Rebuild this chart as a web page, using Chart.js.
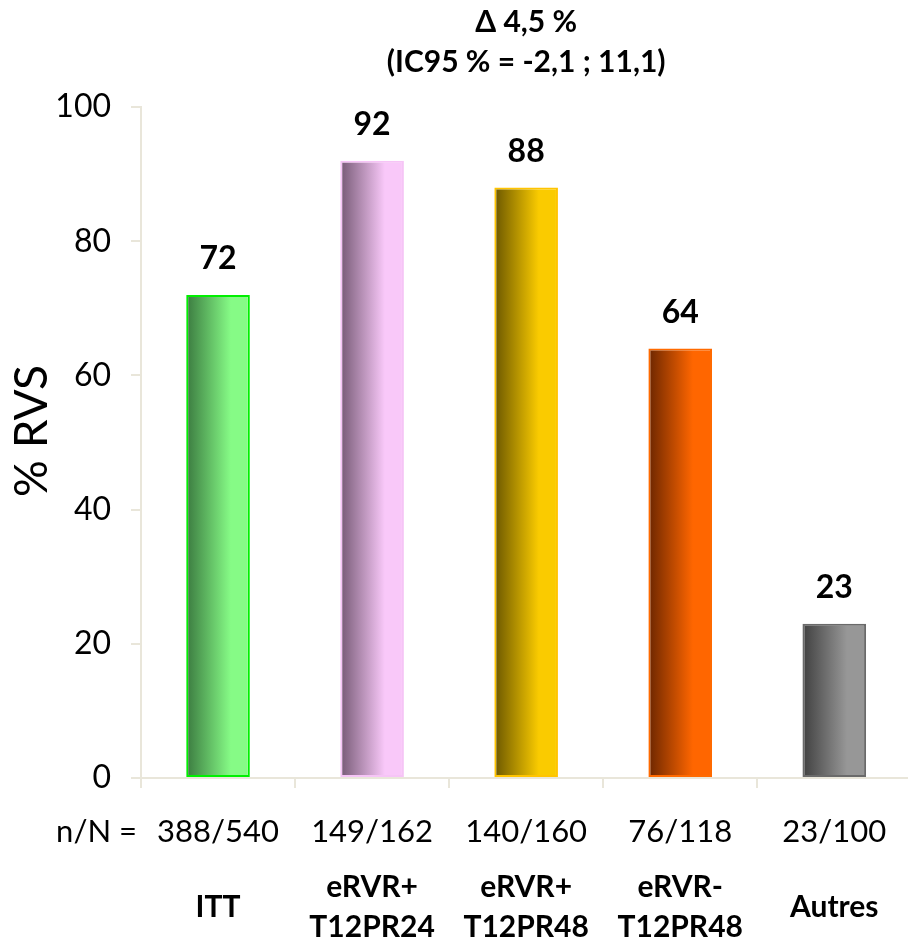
<!DOCTYPE html>
<html>
<head>
<meta charset="utf-8">
<script src="https://cdn.jsdelivr.net/npm/chart.js@4/dist/chart.umd.min.js"></script>
<style>
  html, body { margin: 0; padding: 0; background: #ffffff; overflow: hidden; }
  #wrap { width: 908px; height: 941px; overflow: hidden; position: relative; }
  canvas { display: block; }
</style>
</head>
<body>
<div id="wrap"><canvas id="chart" width="916" height="941"></canvas></div>
<script>
// Sustained virological response (% RVS) by group
const groupLabels = ['ITT', ['eRVR+', 'T12PR24'], ['eRVR+', 'T12PR48'], ['eRVR-', 'T12PR48'], 'Autres'];
const countLabels = ['388/540', '149/162', '140/160', '76/118', '23/100'];
const rvsValues = [72, 92, 88, 64, 23];
const countPrefix = 'n/N =';
const titleLines = ['\u0394 4,5 %', '(IC95 % = -2,1 ; 11,1)'];
const yTitle = '% RVS';

// Bar fills: dark on the left, light on the right
const darkShades = ['#3b7a40', '#765a75', '#6b5700', '#6b2600', '#404040'];
const lightShades = ['#86fb86', '#f9c8f9', '#facb00', '#ff6600', '#979797'];
const edgeColors = ['#00f000', '#f6c4f6', '#ffc400', '#ff6a00', '#6a6a6a'];

const axisColor = '#e9e6da';
const FONT = 'Lato, "Open Sans", sans-serif';
const BAR_PCT = 0.413;
const COUNT_SIZE = 31;
const COUNT_PAD = 25;

function barGradient(ctx) {
  const chart = ctx.chart;
  const area = chart.chartArea;
  const i = ctx.dataIndex;
  if (!area || !chart.scales.x) return lightShades[i];
  const cx = chart.scales.x.getPixelForValue(i);
  const w = (area.right - area.left) / rvsValues.length * BAR_PCT;
  const g = chart.ctx.createLinearGradient(cx - w / 2, 0, cx + w / 2, 0);
  g.addColorStop(0, darkShades[i]);
  g.addColorStop(0.7, lightShades[i]);
  g.addColorStop(1, lightShades[i]);
  return g;
}

// Value printed above each bar
const valueLabels = {
  id: 'valueLabels',
  afterDatasetsDraw(chart) {
    const c = chart.ctx;
    const meta = chart.getDatasetMeta(0);
    c.save();
    c.font = 'bold 32px ' + FONT;
    c.fillStyle = '#000000';
    c.textAlign = 'center';
    c.textBaseline = 'alphabetic';
    meta.data.forEach((bar, i) => {
      c.fillText(String(rvsValues[i]), bar.x, bar.y - 26);
    });
    c.restore();
  }
};

// "n/N =" caption in front of the count row, and the rotated y title
const sideTexts = {
  id: 'sideTexts',
  afterDraw(chart) {
    const xs = chart.scales.x;
    const c = chart.ctx;
    c.save();
    c.font = COUNT_SIZE + 'px ' + FONT;
    c.fillStyle = '#000000';
    c.textAlign = 'right';
    c.textBaseline = 'middle';
    c.fillText(countPrefix, 137, xs.top + 10 + COUNT_PAD + COUNT_SIZE * 0.6);
    c.restore();

    c.save();
    c.translate(32, 431);
    c.rotate(-Math.PI / 2);
    c.font = '46px ' + FONT;
    c.fillStyle = '#000000';
    c.textAlign = 'center';
    c.textBaseline = 'middle';
    c.fillText(yTitle, 0, 0);
    c.restore();
  }
};

new Chart(document.getElementById('chart'), {
  type: 'bar',
  data: {
    labels: countLabels,
    datasets: [{
      data: rvsValues,
      backgroundColor: barGradient,
      borderColor: edgeColors,
      borderWidth: 2,
      borderSkipped: false,
      categoryPercentage: 1,
      barPercentage: BAR_PCT,
      xAxisID: 'x',
      yAxisID: 'y'
    }]
  },
  options: {
    responsive: false,
    animation: false,
    events: [],
    layout: { padding: { left: 0, right: 0, top: 0, bottom: 0 } },
    plugins: {
      legend: { display: false },
      tooltip: { enabled: false },
      title: {
        display: true,
        text: titleLines,
        fullSize: false,
        color: '#000000',
        font: { family: FONT, size: 30, weight: 'bold', lineHeight: 40 / 30 },
        padding: { top: 2, bottom: 25 }
      }
    },
    scales: {
      x: {
        type: 'category',
        position: 'bottom',
        weight: 0,
        offset: true,
        grid: {
          drawOnChartArea: false,
          drawTicks: true,
          tickLength: 10,
          color: axisColor,
          lineWidth: 2,
          offset: true
        },
        border: { display: true, color: axisColor, width: 2 },
        ticks: {
          color: '#000000',
          font: { family: FONT, size: COUNT_SIZE },
          padding: COUNT_PAD,
          maxRotation: 0,
          autoSkip: false
        },
        afterFit(s) { s.height = 72; }
      },
      x2: {
        type: 'category',
        position: 'bottom',
        weight: 1,
        offset: true,
        labels: groupLabels,
        grid: { display: false, drawTicks: false },
        border: { display: false },
        ticks: {
          color: '#000000',
          font: { family: FONT, size: 30, weight: 'bold', lineHeight: 40 / 30 },
          padding: 37,
          crossAlign: 'center',
          maxRotation: 0,
          autoSkip: false
        },
        afterFit(s) { s.height = 91; }
      },
      y: {
        position: 'left',
        min: 0,
        max: 100,
        grid: {
          drawOnChartArea: false,
          drawTicks: true,
          tickLength: 10,
          color: axisColor,
          lineWidth: 2
        },
        border: { display: true, color: axisColor, width: 2 },
        ticks: {
          stepSize: 20,
          color: '#000000',
          font: { family: FONT, size: 32 },
          padding: 20
        },
        afterFit(s) { s.width = 141; }
      }
    }
  },
  plugins: [valueLabels, sideTexts]
});
</script>
</body>
</html>
